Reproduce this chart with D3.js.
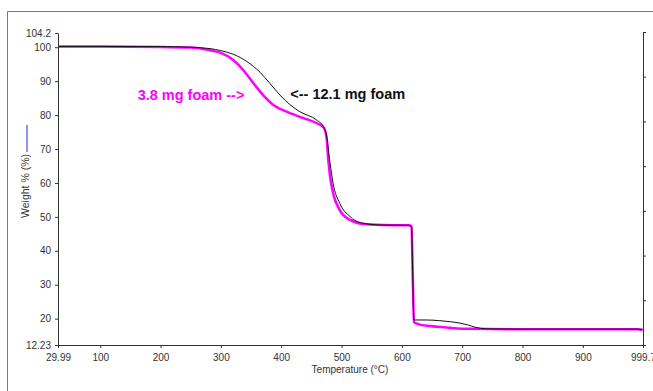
<!DOCTYPE html>
<html>
<head>
<meta charset="utf-8">
<script src="https://cdn.jsdelivr.net/npm/d3@7"></script>
<style>
  body { margin: 0; background: #fff; }
  svg text { font-family: "Liberation Sans", Arial, sans-serif; }
</style>
</head>
<body>
<script>
// 3.8 mg foam (magenta)
const temps38 = [30, 100, 200, 250, 280, 299, 320, 337, 354, 370, 387, 409, 437, 459, 470, 475, 478, 481, 486, 497, 514, 536, 570, 612, 616, 618, 620, 627, 647, 680, 713, 800, 900, 990, 999];
const weight38 = [100.2, 100.2, 100.1, 99.9, 99.2, 98.4, 96.3, 93.3, 89.4, 85.9, 83.0, 81.0, 79.1, 77.6, 76.4, 73.6, 66.8, 61.9, 57.0, 52.0, 49.1, 47.9, 47.6, 47.5, 47.0, 33.0, 19.0, 18.4, 17.8, 17.3, 17.0, 16.9, 16.9, 16.9, 16.6];

// 12.1 mg foam (black)
const temps121 = [30, 100, 200, 250, 282, 300, 321, 343, 365, 381, 398, 415, 431, 459, 470, 475, 481, 486, 497, 514, 531, 564, 612, 616, 618, 620, 640, 663, 680, 696, 710, 721, 740, 800, 900, 999];
const weight121 = [100.2, 100.2, 100.2, 100.0, 99.6, 99.0, 97.9, 95.8, 92.6, 89.4, 85.9, 83.0, 81.0, 78.5, 76.6, 74.1, 65.8, 59.9, 54.0, 50.1, 48.3, 47.6, 47.5, 47.2, 33.0, 19.6, 19.6, 19.4, 19.1, 18.7, 18.1, 17.5, 17.0, 16.9, 16.9, 16.9];

const xTicks = [29.99, 100, 200, 300, 400, 500, 600, 700, 800, 900, 999.7];
const xTickLabels = ['29.99', '100', '200', '300', '400', '500', '600', '700', '800', '900', '999.7'];
const yTicks = [12.23, 20, 30, 40, 50, 60, 70, 80, 90, 100, 104.2];
const yTickLabels = ['12.23', '20', '30', '40', '50', '60', '70', '80', '90', '100', '104.2'];

const w = 653, h = 391;

const svg = d3.select('body')
  .append('svg')
  .attr('width', w)
  .attr('height', h);

// frame
svg.append('line').attr('x1', 7.5).attr('x2', w).attr('y1', 11.5).attr('y2', 11.5)
  .attr('stroke', '#777').attr('stroke-width', 1);
svg.append('line').attr('x1', 7.5).attr('x2', 7.5).attr('y1', 11.5).attr('y2', h)
  .attr('stroke', '#777').attr('stroke-width', 1);

const xScale = d3.scaleLinear().domain([29.99, 999.7]).range([58, 643]);
const yScale = d3.scaleLinear().domain([12.23, 104.2]).range([345, 33]);
const rScale = d3.scaleLinear().domain([0, 7]).range([345, 32]);

const line = d3.line()
  .x(d => xScale(d[0]))
  .y(d => yScale(d[1]))
  .curve(d3.curveMonotoneX);

svg.append('path')
  .datum(temps38.map((t, i) => [t, weight38[i]]))
  .attr('fill', 'none')
  .attr('stroke', '#ff00ff')
  .attr('stroke-width', 2.5)
  .attr('d', line);

svg.append('path')
  .datum(temps121.map((t, i) => [t, weight121[i]]))
  .attr('fill', 'none')
  .attr('stroke', '#111')
  .attr('stroke-width', 1)
  .attr('d', line);

const xAxis = d3.axisBottom(xScale)
  .tickValues(xTicks)
  .tickFormat((d, i) => xTickLabels[i])
  .tickSize(3)
  .tickSizeOuter(0);
const yAxis = d3.axisLeft(yScale)
  .tickValues(yTicks)
  .tickFormat((d, i) => yTickLabels[i])
  .tickSize(3)
  .tickSizeOuter(0);
const rAxis = d3.axisRight(rScale)
  .ticks(7)
  .tickFormat('')
  .tickSize(3)
  .tickSizeOuter(0);

function styleAxis(g) {
  g.select('.domain').attr('stroke', '#333');
  g.selectAll('.tick line').attr('stroke', '#333');
  g.selectAll('.tick text').attr('fill', '#333').attr('font-size', 10);
}

svg.append('g')
  .attr('transform', 'translate(0,345)')
  .call(xAxis)
  .call(styleAxis)
  .selectAll('.tick text').attr('dy', '0.95em');
svg.append('g')
  .attr('transform', 'translate(58,0)')
  .call(yAxis)
  .call(styleAxis)
  .selectAll('.tick text').attr('x', -7);
svg.append('g')
  .attr('transform', 'translate(643,0)')
  .call(rAxis)
  .call(styleAxis);

// axis titles
svg.append('text')
  .attr('x', 350).attr('y', 373)
  .attr('text-anchor', 'middle')
  .attr('font-size', 10)
  .attr('fill', '#333')
  .text('Temperature (°C)');

svg.append('text')
  .attr('transform', 'translate(29,186) rotate(-90)')
  .attr('text-anchor', 'middle')
  .attr('font-size', 10.5)
  .attr('fill', '#333')
  .text('Weight % (%)');

svg.append('line')
  .attr('x1', 27).attr('x2', 27).attr('y1', 125).attr('y2', 152)
  .attr('stroke', '#6b6bff').attr('stroke-width', 1.5);

// annotations
svg.append('text')
  .attr('x', xScale(162)).attr('y', yScale(84.4))
  .attr('font-size', 14.5).attr('font-weight', 'bold')
  .attr('fill', '#ff00ff')
  .text('3.8 mg foam -->');

svg.append('text')
  .attr('x', xScale(415)).attr('y', yScale(84.6))
  .attr('font-size', 14.5).attr('font-weight', 'bold')
  .attr('fill', '#111')
  .text('<-- 12.1 mg foam');
</script>
</body>
</html>
